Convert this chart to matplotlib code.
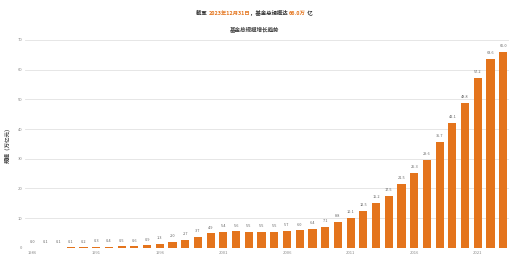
import matplotlib.pyplot as plt

plt.rcParams['font.family'] = ['Noto Sans CJK SC', 'DejaVu Sans']

# values (unit: 万亿)
years = [str(y) for y in range(1986, 2024)]
scale = [0.02, 0.05, 0.1, 0.15, 0.2, 0.3, 0.4, 0.5, 0.6, 0.9,
         1.3, 2.0, 2.7, 3.7, 4.9, 5.4, 5.6, 5.5, 5.5, 5.5,
         5.7, 6.0, 6.4, 7.1, 8.8, 10.1, 12.5, 15.2, 17.5, 21.5,
         25.3, 29.6, 35.7, 42.1, 48.8, 57.2, 63.6, 66.0]
yticks = [0, 10, 20, 30, 40, 50, 60, 70]

orange = '#e4741c'
grey = '#444444'

fig = plt.figure(figsize=(5.09, 2.54), dpi=100)
ax = fig.add_axes([0.049, 0.024, 0.951, 0.819])

x = range(len(scale))
ax.bar(x, scale, width=0.64, color=orange, zorder=2)
for i, v in enumerate(scale):
    ax.text(i, v + 1.2, f'{v:.1f}', ha='center', va='bottom', fontsize=2.8, color='#666666')

ax.set_xlim(-0.6, len(scale) - 0.55)
ax.set_ylim(0, 70)
ax.set_yticks(yticks)
ax.set_yticklabels([str(t) for t in yticks], fontsize=3, color='#888888')
ax.set_xticks(list(x)[::5])
ax.set_xticklabels(years[::5], fontsize=3, color='#888888')
ax.tick_params(length=0, pad=2)
ax.grid(axis='y', color='#e2e2e2', linewidth=0.6, zorder=0)
for s in ax.spines.values():
    s.set_visible(False)
ax.set_ylabel('规模（万亿元）', fontsize=4, color=grey, fontweight='bold', labelpad=5)

# title: black + orange pieces
parts = [('截至 ', '#333333'), ('2023年12月31日', orange), ('，基金总规模达 ', '#333333'),
         ('66.0万', orange), (' 亿', '#333333')]
fig.canvas.draw()
r = fig.canvas.get_renderer()
widths = []
for t, c in parts:
    tt = fig.text(0, 0, t, fontsize=3.9, fontweight='bold')
    widths.append(tt.get_window_extent(r).width / fig.bbox.width)
    tt.remove()
xpos = 0.5 - sum(widths) / 2
for (t, c), w in zip(parts, widths):
    fig.text(xpos, 0.947, t, fontsize=3.9, fontweight='bold', color=c, va='center')
    xpos += w

fig.text(0.5, 0.885, '基金总规模增长趋势', fontsize=4, fontweight='bold', color='#444444',
         ha='center', va='center')

fig.savefig('out.png', dpi=100)
